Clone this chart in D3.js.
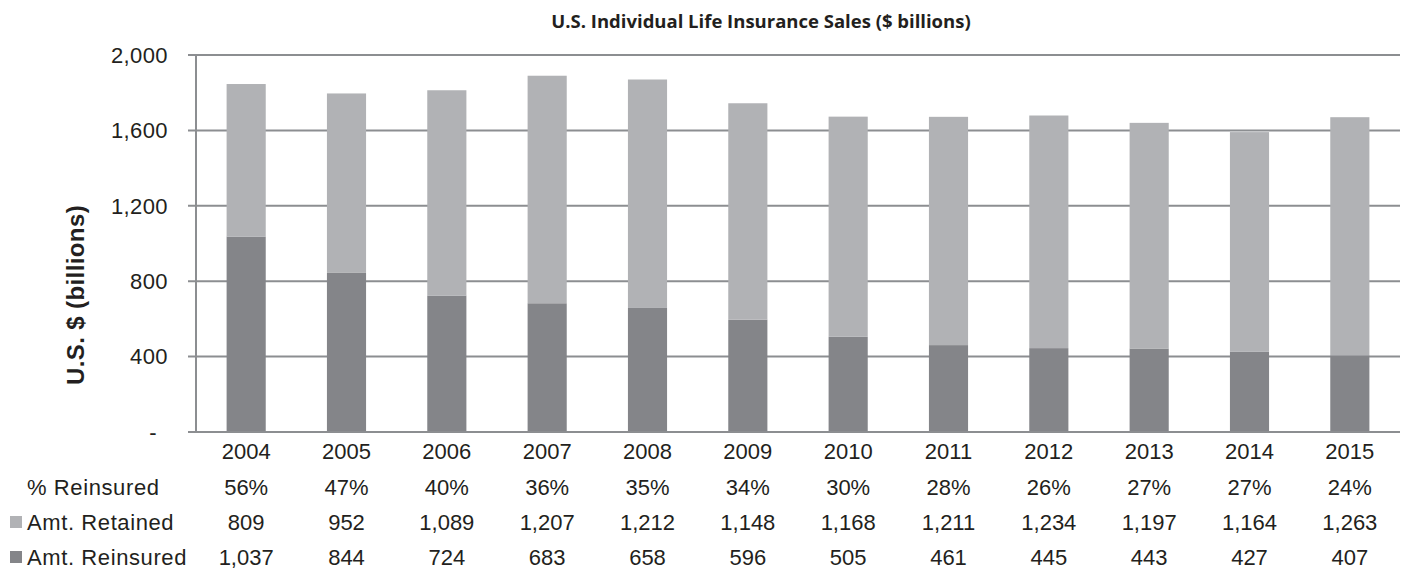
<!DOCTYPE html>
<meta charset="utf-8">
<script src="https://d3js.org/d3.v7.min.js"></script>
<div id="chart"></div>
<style>
body { margin: 0; background: #fff; }
text { font-family: "Liberation Sans", Arial, sans-serif; fill: #231f20; }
</style>
<script>
var years = ["2004","2005","2006","2007","2008","2009","2010","2011","2012","2013","2014","2015"];
var pctReinsured = ["56%","47%","40%","36%","35%","34%","30%","28%","26%","27%","27%","24%"];
var retained = [809, 952, 1089, 1207, 1212, 1148, 1168, 1211, 1234, 1197, 1164, 1263];
var reinsured = [1037, 844, 724, 683, 658, 596, 505, 461, 445, 443, 427, 407];
var yTicks = [0, 400, 800, 1200, 1600, 2000];

var W = 1405, H = 571;
var plotLeft = 196, plotRight = 1400, plotTop = 55, plotBottom = 432;
var lightGrey = "#b1b2b5", darkGrey = "#848589", gridGrey = "#8c8e91";

var svg = d3.select("#chart").append("svg")
  .attr("width", W).attr("height", H);

var x = d3.scaleBand().domain(years).range([plotLeft, plotRight]).paddingInner(0.61).paddingOuter(0.305);
var y = d3.scaleLinear().domain([0, 2000]).range([plotBottom, plotTop]);

// title
svg.append("text")
  .attr("x", 761).attr("y", 28)
  .attr("text-anchor", "middle")
  .style("font-family", "'Open Sans', sans-serif")
  .style("font-weight", "bold")
  .style("font-size", "18.5px")
  .text("U.S. Individual Life Insurance Sales ($ billions)");

// gridlines
svg.append("g").selectAll("line")
  .data(yTicks)
  .enter().append("line")
    .attr("x1", 188).attr("x2", plotRight)
    .attr("y1", function(d){ return y(d); })
    .attr("y2", function(d){ return y(d); })
    .attr("stroke", gridGrey).attr("stroke-width", 2);

// y tick labels (Excel style dash for zero, padded)
svg.append("g").selectAll("text")
  .data(yTicks)
  .enter().append("text")
    .attr("x", 168)
    .attr("dx", function(d){ return d === 0 ? -11 : 0; })
    .attr("y", function(d){ return y(d); })
    .attr("dy", "0.35em")
    .attr("text-anchor", "end")
    .style("font-size", "22px")
    .style("letter-spacing", "0.4px")
    .text(function(d){ return d === 0 ? "-" : d3.format(",")(d); });

// y axis title
svg.append("text")
  .attr("transform", "translate(84,295) rotate(-90)")
  .attr("text-anchor", "middle")
  .style("font-size", "24px")
  .style("font-weight", "bold")
  .style("letter-spacing", "0.4px")
  .text("U.S. $ (billions)");

// bars
var bars = svg.append("g");
bars.selectAll(".reins")
  .data(years)
  .enter().append("rect")
    .attr("x", function(d){ return x(d); })
    .attr("width", x.bandwidth())
    .attr("y", function(d, i){ return y(reinsured[i]); })
    .attr("height", function(d, i){ return y(0) - y(reinsured[i]); })
    .attr("fill", darkGrey);
bars.selectAll(".ret")
  .data(years)
  .enter().append("rect")
    .attr("x", function(d){ return x(d); })
    .attr("width", x.bandwidth())
    .attr("y", function(d, i){ return y(reinsured[i] + retained[i]); })
    .attr("height", function(d, i){ return y(reinsured[i]) - y(reinsured[i] + retained[i]); })
    .attr("fill", lightGrey);

// y axis line and baseline
svg.append("line")
  .attr("x1", plotLeft).attr("x2", plotLeft)
  .attr("y1", y(2000)).attr("y2", y(0))
  .attr("stroke", gridGrey).attr("stroke-width", 2);
svg.append("line")
  .attr("x1", 188).attr("x2", plotRight)
  .attr("y1", y(0)).attr("y2", y(0))
  .attr("stroke", gridGrey).attr("stroke-width", 2);

// data table rows
var rows = [
  { label: "", vals: years, y: 451, key: null },
  { label: "% Reinsured", vals: pctReinsured, y: 487, key: null },
  { label: "Amt. Retained", vals: retained.map(d3.format(",")), y: 522, key: lightGrey },
  { label: "Amt. Reinsured", vals: reinsured.map(d3.format(",")), y: 557, key: darkGrey }
];

rows.forEach(function(r) {
  var g = svg.append("g");
  g.selectAll("text")
    .data(r.vals)
    .enter().append("text")
      .attr("x", function(d, i){ return x(years[i]) + x.bandwidth() / 2; })
      .attr("y", r.y)
      .attr("dy", "0.35em")
      .attr("text-anchor", "middle")
      .style("font-size", "22px")
      .text(function(d){ return d; });
  if (r.label) {
    g.append("text")
      .attr("x", 27).attr("y", r.y)
      .attr("dy", "0.35em")
      .style("font-size", "22px")
      .style("letter-spacing", "0.6px")
      .text(r.label);
  }
  if (r.key) {
    g.append("rect")
      .attr("x", 10).attr("y", r.y - 6)
      .attr("width", 12).attr("height", 12)
      .attr("fill", r.key);
  }
});
</script>
